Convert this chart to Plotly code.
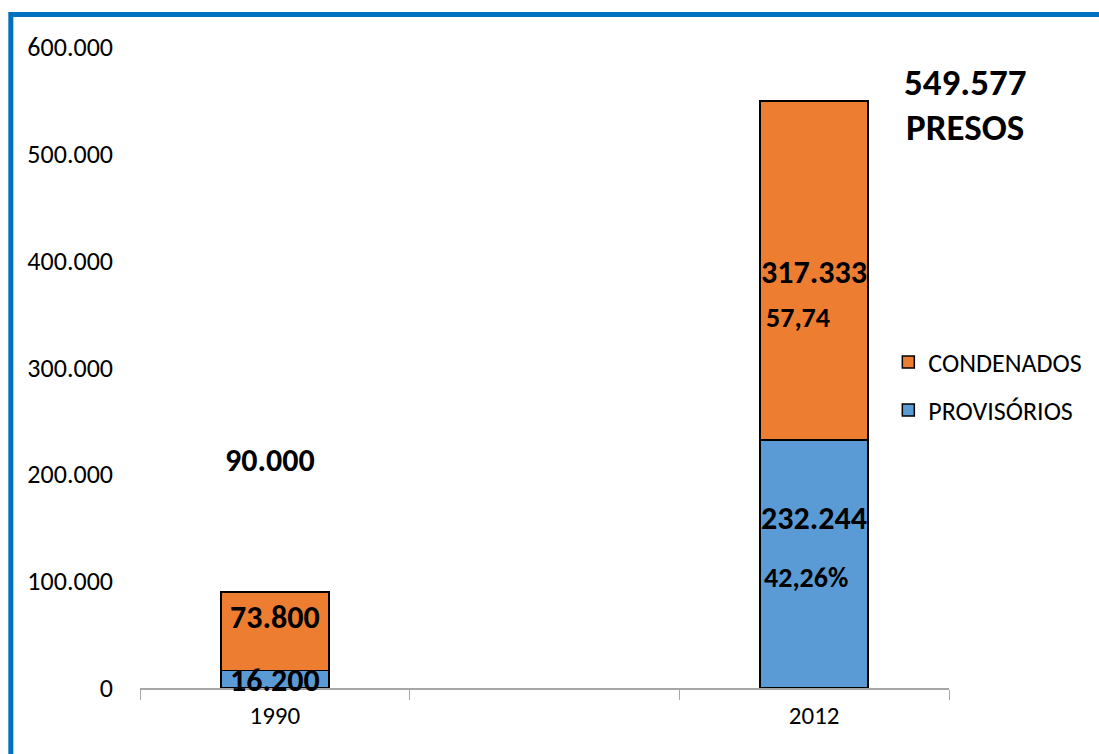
import plotly.graph_objects as go

# Prison population by legal status
years = ["1990", "2012"]
slots = ["1990", " ", "2012"]  # an empty middle slot separates the two years
provisorios = [16200, 232244]
condenados = [73800, 317333]
totals = [p + c for p, c in zip(provisorios, condenados)]
share_condenados = ["", "57,74"]
share_provisorios = ["", "42,26%"]

ORANGE = "#ED7D31"
BLUE = "#5B9BD5"
FRAME = "#0070C0"
FONT = "Carlito, Lato, 'Open Sans', sans-serif"


def fmt(v):
    return f"{v:,}".replace(",", ".")


fig = go.Figure()
fig.add_trace(go.Bar(
    x=years, y=provisorios, name="PROVISÓRIOS",
    marker=dict(color=BLUE, line=dict(color="black", width=1.5)),
    width=0.4, legend="legend2",
))
fig.add_trace(go.Bar(
    x=years, y=condenados, name="CONDENADOS",
    marker=dict(color=ORANGE, line=dict(color="black", width=1.5)),
    width=0.4, legend="legend",
))

bold = dict(family=FONT, size=32, color="black", weight="bold")
small_bold = dict(family=FONT, size=28, color="black", weight="bold")
pos = [slots.index(y) for y in years]

ann = []
# 1990 segment labels
ann.append(dict(x=pos[0], y=provisorios[0] * 0.46, text=fmt(provisorios[0]),
                font=bold, showarrow=False))
ann.append(dict(x=pos[0], y=provisorios[0] + condenados[0] * 0.67, text=fmt(condenados[0]),
                font=bold, showarrow=False))
ann.append(dict(x=pos[0], y=totals[0] * 2.37, text=fmt(totals[0]),
                font=bold, showarrow=False, xshift=-5))
# 2012 segment labels
ann.append(dict(x=pos[1], y=provisorios[1] + condenados[1] * 0.495, text=fmt(condenados[1]),
                font=bold, showarrow=False))
ann.append(dict(x=pos[1], y=provisorios[1] + condenados[1] * 0.36, text=share_condenados[1],
                font=small_bold, showarrow=False, xshift=-16))
ann.append(dict(x=pos[1], y=provisorios[1] * 0.685, text=fmt(provisorios[1]),
                font=bold, showarrow=False))
ann.append(dict(x=pos[1], y=provisorios[1] * 0.445, text=share_provisorios[1],
                font=small_bold, showarrow=False, xshift=-8))
# Grand total headline
head = dict(family=FONT, size=37, color="black", weight="bold")
ann.append(dict(x=1.0197, y=0.945, xref="paper", yref="paper", text=fmt(totals[1]),
                font=head, showarrow=False, xanchor="center", yanchor="middle"))
ann.append(dict(x=1.0197, y=0.874, xref="paper", yref="paper", text="PRESOS",
                font=head, showarrow=False, xanchor="center", yanchor="middle"))

legend_font = dict(family=FONT, size=26, color="black")
ticks = [0, 100000, 200000, 300000, 400000, 500000, 600000]

fig.update_layout(
    width=1099, height=754,
    margin=dict(l=140, r=148, t=47, b=66),
    paper_bgcolor="white", plot_bgcolor="white",
    barmode="stack",
    font=dict(family=FONT, size=26, color="black"),
    annotations=ann,
    showlegend=True,
    legend=dict(x=0.925, y=(688 - 362) / 641, xanchor="left", yanchor="middle",
                font=legend_font, bgcolor="rgba(0,0,0,0)"),
    legend2=dict(x=0.925, y=(688 - 410) / 641, xanchor="left", yanchor="middle",
                 font=legend_font, bgcolor="rgba(0,0,0,0)"),
    xaxis=dict(
        type="category", categoryorder="array", categoryarray=slots,
        range=[-0.5, 2.5],
        showline=True, linecolor="#A6A6A6", linewidth=1.5,
        ticks="outside", tickson="boundaries", ticklen=10, tickcolor="#A6A6A6",
        tickfont=dict(family=FONT, size=25, color="black"), ticklabelstandoff=4,
        showgrid=False, zeroline=False,
    ),
    yaxis=dict(
        range=[0, 600000], tickvals=ticks, ticktext=[fmt(v) for v in ticks],
        showgrid=False, zeroline=False, showline=False, ticks="",
        tickfont=dict(family=FONT, size=26, color="black"), ticklabelstandoff=26,
    ),
    shapes=[dict(
        type="rect", xref="paper", yref="paper",
        x0=(10.5 - 140) / 811, x1=1.3, y0=-0.3, y1=(688 - 14.5) / 641,
        line=dict(color=FRAME, width=5), fillcolor="rgba(0,0,0,0)", layer="above",
    )],
)

fig.write_html("out.html")
